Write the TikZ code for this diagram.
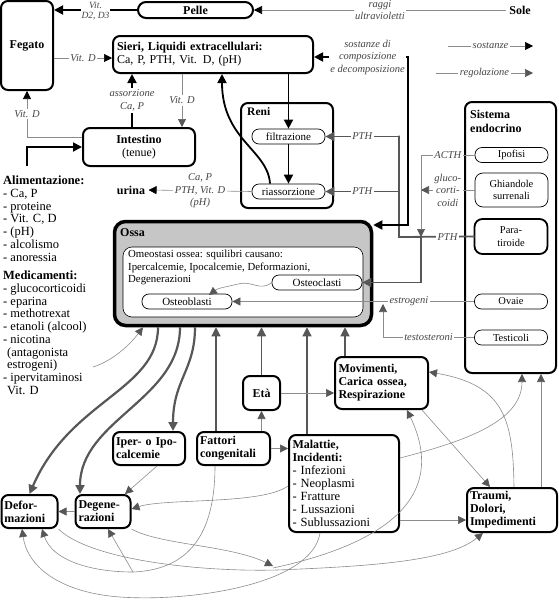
\documentclass[tikz,border=0pt]{standalone}
\usepackage{fontspec}
\setmainfont{Liberation Serif}
\usetikzlibrary{arrows.meta}

\definecolor{linegray}{HTML}{8C8C8C}
\definecolor{darkline}{HTML}{575757}
\definecolor{labelgray}{HTML}{454545}
\definecolor{ossafill}{HTML}{C6C6C6}

\begin{document}
\begin{tikzpicture}[
    x=1pt, y=-1pt,
    box/.style={
      draw,
      line width=2pt,
      rounded corners=7pt,
      inner sep=3pt,
      font=\fontsize{12}{13}\selectfont\bfseries
    },
    pill/.style={
      draw,
      line width=0.7pt,
      rounded corners=7pt,
      minimum width=73pt,
      minimum height=15pt,
      inner sep=0pt,
      font=\fontsize{11}{12}\selectfont
    },
    lbl/.style={
      fill=white,
      inner sep=1.5pt,
      align=center,
      text=labelgray,
      font=\fontsize{10.5}{12.5}\selectfont\itshape
    },
    listtext/.style={
      inner sep=0pt,
      align=left,
      font=\fontsize{12.5}{12.7}\selectfont
    },
    subst/.style={line width=1.8pt, -{Triangle[length=9pt,width=9pt]}},
    flow/.style={draw=linegray, line width=0.6pt, -{Triangle[length=8pt,width=8pt,color=black]}},
    reg/.style={draw=linegray, line width=0.6pt, -{Triangle[length=8pt,width=8pt,color=darkline]}},
    regthick/.style={draw=darkline, line width=1.8pt, -{Triangle[length=9pt,width=9pt,color=darkline]}},
    regmid/.style={draw=darkline, line width=1.2pt, -{Triangle[length=9pt,width=9pt,color=darkline]}},
    lineout/.style={draw=darkline, line width=2.2pt, -{Triangle[length=9pt,width=9pt,color=darkline]}}
  ]

  \useasboundingbox (0, 0) rectangle (558, 600);

  \node[box, rounded corners=8pt, minimum width=115pt, minimum height=16pt, inner sep=0pt] (pelle) at (195.5, 10) {Pelle};
  \node[font=\fontsize{12}{13}\selectfont\bfseries] (sole) at (520, 10) {Sole};
  \node[box, minimum width=52pt, minimum height=89pt] (fegato) at (27, 45.5) {Fegato};
  \node[box, minimum width=200pt, minimum height=37pt, text width=192pt, align=left] (sieri) at (213, 54.5) {Sieri, Liquidi extracellulari:\\\mdseries Ca, P, PTH, Vit. D, (pH)};
  \node[box, minimum width=112pt, minimum height=38pt, align=center] (intestino) at (139, 147) {Intestino\\\mdseries (tenue)};
  \coordinate (alimtop) at (27, 166);

  \node[listtext, anchor=north west] (alim) at (3, 176) {\textbf{Alimentazione:}\\- Ca, P\\- proteine\\- Vit. C, D\\- (pH)\\- alcolismo\\- anoressia};
  \node[listtext, anchor=north west] (medic) at (3, 271) {\textbf{Medicamenti:}\\- glucocorticoidi\\- eparina\\- methotrexat\\- etanoli (alcool)\\- nicotina\\\hspace*{4pt}(antagonista\\\hspace*{4pt}estrogeni)\\- ipervitaminosi\\\hspace*{4pt}Vit. D};
  \coordinate (mediend) at (93, 367);

  \node[box, minimum width=92pt, minimum height=105pt] (reni) at (287, 155.5) {};
  \node[anchor=north west, inner sep=0pt, font=\fontsize{11.5}{12}\selectfont\bfseries] (renilbl) at (247, 107) {Reni};
  \node[pill] (filtr) at (288.5, 136.5) {filtrazione};
  \node[pill] (riass) at (288.5, 191.5) {riassorzione};
  \node[font=\fontsize{12}{13}\selectfont\bfseries] (urina) at (131, 190) {urina};

  \node[box, minimum width=91pt, minimum height=271pt] (endo) at (510.5, 237.5) {};
  \node[anchor=north west, inner sep=0pt, align=left, font=\fontsize{12}{14}\selectfont\bfseries] (endolbl) at (470, 110) {Sistema\\endocrino};
  \node[pill, font=\fontsize{10.5}{12}\selectfont] (ipofisi) at (511.5, 155) {Ipofisi};
  \node[pill, minimum height=34pt, rounded corners=8pt, align=center, font=\fontsize{10.5}{12.5}\selectfont] (surrenali) at (511.5, 190) {Ghiandole\\surrenali};
  \node[pill, line width=1.8pt, minimum height=35pt, rounded corners=8pt, align=center, font=\fontsize{10.5}{12.5}\selectfont] (paratiroide) at (511, 236.5) {Para-\\tiroide};
  \node[pill, font=\fontsize{10.5}{12}\selectfont] (ovaie) at (511, 301.5) {Ovaie};
  \node[pill, font=\fontsize{10.5}{12}\selectfont] (testicoli) at (511, 337.5) {Testicoli};

  \coordinate (legs1) at (448, 46);
  \coordinate (legs2) at (533, 46);
  \coordinate (legr1) at (436, 73);
  \coordinate (legr2) at (533, 73);

  \node[draw, line width=3.5pt, rounded corners=11pt, fill=ossafill, minimum width=257pt, minimum height=104pt] (ossa) at (243, 273.5) {};
  \node[anchor=north west, inner sep=0pt, font=\fontsize{12}{13}\selectfont\bfseries] (ossalbl) at (120, 228) {Ossa};
  \node[draw, line width=0.6pt, rounded corners=9pt, fill=white, minimum width=240pt, minimum height=70pt] (omeo) at (243, 282) {};
  \node[anchor=north west, inner sep=0pt, align=left, font=\fontsize{10.8}{12.5}\selectfont] (omeotxt) at (128, 250) {Omeostasi ossea: squilibri causano:\\Ipercalcemie, Ipocalcemie, Deformazioni,\\Degenerazioni};
  \node[pill, minimum width=90pt] (osteoclasti) at (317, 282.5) {Osteoclasti};
  \node[pill, minimum width=90pt] (osteoblasti) at (187, 301.5) {Osteoblasti};

  \node[box, minimum width=37pt, minimum height=34pt, inner sep=2pt] (eta) at (261.5, 393) {Età};
  \node[box, minimum width=93pt, minimum height=52pt, text width=86pt, align=left] (movimenti) at (381.5, 383) {Movimenti,\\Carica ossea,\\Respirazione};
  \node[box, minimum width=72pt, minimum height=33pt, text width=66pt, align=left] (iper) at (149, 448.5) {Iper- o Ipo-\\calcemie};
  \node[box, minimum width=73pt, minimum height=33pt, text width=67pt, align=left] (fattori) at (233.5, 448.5) {Fattori\\congenitali};
  \node[box, minimum width=110pt, minimum height=97pt, text width=103pt, align=left] (malattie) at (344, 483.5) {Malattie,\\Incidenti:\\\mdseries\fontsize{12.5}{12.9}\selectfont - Infezioni\\- Neoplasmi\\- Fratture\\- Lussazioni\\- Sublussazioni};
  \node[box, minimum width=90pt, minimum height=44pt, text width=84pt, align=left] (traumi) at (512, 510) {Traumi,\\Dolori,\\Impedimenti};
  \node[box, minimum width=55pt, minimum height=33pt, text width=50pt, align=left] (deformazioni) at (29.5, 511.5) {Defor-\\mazioni};
  \node[box, minimum width=54pt, minimum height=33pt, text width=49pt, align=left] (degenerazioni) at (103, 511.5) {Degene-\\razioni};

  \draw[flow] (sole) -- node[lbl] {raggi\\ultravioletti} (pelle);
  \draw[subst] (pelle.west) -- node[lbl, yshift=-1.5pt, inner sep=0.5pt, font=\fontsize{9.5}{10}\selectfont\itshape] {Vit.\\D2, D3} (pelle.west -| fegato.east);
  \draw[flow] (fegato.east |- 0, 58) -- node[lbl] {Vit. D} (sieri.west |- 0, 58);
  \draw[subst] (intestino.north -| 132, 0) -- node[lbl] {assorzione\\Ca, P} (sieri.south -| 132, 0);
  \draw[reg] (sieri.south -| 182, 0) -- node[lbl] {Vit. D} (intestino.north -| 182, 0);
  \draw[flow] (intestino.west |- 0, 137) -| node[lbl, pos=0.75] {Vit. D} (fegato.south);
  \draw[subst] (alimtop) |- (intestino.west |- 0, 147);

  \draw[subst] (sieri.south -| filtr.north) -- (filtr.north);
  \draw[subst] (filtr) -- (riass);
  \draw[subst] (riass.north -| 270, 0) .. controls (268, 150) and (222, 140) .. (sieri.south -| 222, 0);
  \draw[flow] (riass.west) -- node[lbl] {Ca, P\\PTH, Vit. D\\(pH)} (urina.east);

  \coordinate (pthcorner) at (399, 237);
  \coordinate (pthsplit) at (421, 237);
  \coordinate (sostcorner) at (408, 57);
  \draw[regthick, -, line cap=rect] (paratiroide.west) -- node[lbl, pos=0.35] {PTH} (pthcorner) -- (pthcorner |- filtr.east);
  \draw[regthick] (pthcorner |- filtr.east) -- node[lbl] {PTH} (filtr.east);
  \draw[regthick] (pthcorner |- riass.east) -- node[lbl] {PTH} (riass.east);
  \draw[regthick] (pthsplit) |- (osteoclasti.east);
  \draw[reg] (ipofisi.west) -- node[lbl] {ACTH} (ipofisi.west -| pthsplit) -- (pthsplit);
  \draw[reg] (surrenali.west) -- node[lbl] {gluco-\\corti-\\coidi} (surrenali.west -| pthsplit);
  \draw[subst, {Triangle[length=9pt,width=9pt]}-{Triangle[length=9pt,width=9pt]}] (sieri.east |- sostcorner) -- node[lbl, pos=0.57] {sostanze di\\composizione\\e decomposizione} (sostcorner) |- (ossa.east |- 0, 225);

  \draw[reg] (ovaie.west) -- node[lbl, pos=0.27] {estrogeni} (osteoblasti.east);
  \coordinate (testcorner) at (383, 337.5);
  \draw[reg] (testicoli.west) -- node[lbl] {testosteroni} (testcorner) -- (testcorner |- 0, 304);
  \draw[reg] (osteoclasti.west) .. controls (260, 292) and (252, 280) .. (238, 284) .. controls (226, 287) and (218, 288) .. (209, 295);
  \draw[reg] (mediend) .. controls (115, 360) and (132, 342) .. (ossa.south -| 143, 0);

  \draw[lineout] (ossa.south -| 158, 0) .. controls (158, 390) and (70, 400) .. (deformazioni.north);
  \draw[lineout] (ossa.south -| 180, 0) .. controls (180, 400) and (80, 420) .. (degenerazioni.north -| 80, 0);
  \draw[lineout] (ossa.south -| 195, 0) .. controls (195, 370) and (173, 380) .. (iper.north -| 173, 0);

  \draw[regmid] (fattori.north -| 216, 0) -- (ossa.south -| 216, 0);
  \draw[regmid] (eta) -- (ossa.south -| eta);
  \draw[regmid] (malattie.north -| 307, 0) -- (ossa.south -| 307, 0);
  \draw[regmid] (movimenti.north -| 345, 0) -- (ossa.south -| 345, 0);

  \draw[reg] (eta.south |- fattori.north) -- (eta.south);
  \draw[reg] (eta) -- (movimenti.west |- eta);
  \draw[reg] (fattori.east) -- (malattie.west |- fattori.east);
  \draw[reg] (iper.south -| 157, 0) -- (degenerazioni.north -| 125, 0);
  \draw[reg] (degenerazioni) -- (deformazioni);
  \draw[reg] (malattie.west |- 0, 486) .. controls (262, 505) and (165, 498) .. (degenerazioni.east |- 0, 509);
  \draw[reg] (malattie.east |- 0, 520) -- (traumi.west |- 0, 520);
  \draw[reg] (movimenti.south -| 422, 0) -- (traumi.north -| 490, 0);
  \draw[reg] (traumi.north -| 514, 0) .. controls (513, 420) and (505, 385) .. (movimenti.east |- 0, 372);
  \draw[reg] (traumi.north -| 541, 0) -- (endo.south -| 541, 0);
  \draw[reg] (malattie.east |- 0, 458) .. controls (470, 440) and (522, 420) .. (endo.south -| 522, 0);

  \draw[reg] (malattie.south -| 320, 0) .. controls (312, 585) and (190, 602) .. (120, 597) .. controls (65, 593) and (28, 570) .. (deformazioni.south -| 22, 0);
  \draw[reg, -] (fattori.south -| 215, 0) .. controls (215, 545) and (180, 570) .. (133, 572) coordinate (fattorijoin);
  \draw[reg] (fattorijoin) -- (degenerazioni.south -| 108, 0);
  \draw[reg] (fattorijoin) .. controls (90, 572) and (52, 560) .. (deformazioni.south -| 42, 0);
  \draw[reg] (deformazioni.south east) .. controls (90, 560) and (200, 572) .. (277, 570) .. controls (380, 566) and (450, 560) .. (traumi.south -| 483, 0);
  \draw[reg] (degenerazioni.south east) .. controls (160, 545) and (230, 545) .. (273, 566);
  \coordinate (movbottom) at (273, 568);
  \draw[reg] (movbottom) .. controls (380, 545) and (450, 500) .. (movimenti.south -| 407, 0);

  \draw[flow] (legs1) -- node[lbl] {sostanze} (legs2);
  \draw[reg] (legr1) -- node[lbl] {regolazione} (legr2);

\end{tikzpicture}
\end{document}
